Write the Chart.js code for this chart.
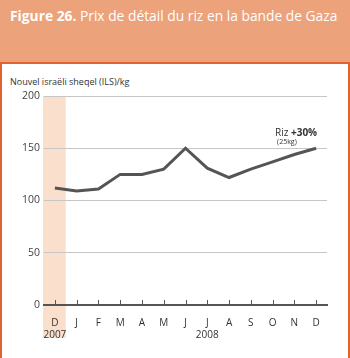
<!DOCTYPE html>
<html>
<head>
<meta charset="utf-8">
<script src="https://cdn.jsdelivr.net/npm/chart.js@4"></script>
<style>
  body { margin: 0; width: 350px; height: 358px; overflow: hidden; background: #fff; font-family: "Open Sans", sans-serif; }
  .header { position: absolute; left: 0; top: 0; width: 350px; height: 62px; background: #eca27b; }
  .header h1 { margin: 0; position: absolute; left: 10px; top: 6px; color: #fff; font-size: 13.8px; font-weight: normal; white-space: nowrap; }
  .panel { position: absolute; left: 0; top: 62px; width: 346px; height: 300px; border: 2px solid #e2632d; border-bottom: none; }
  .ytitle { position: absolute; left: 10px; top: 75px; font-size: 9px; color: #333; }
  #wrap { position: absolute; left: 0; top: 0; width: 350px; height: 358px; }
</style>
</head>
<body>
<div class="header"><h1><b>Figure 26.</b> Prix de détail du riz en la bande de Gaza</h1></div>
<div class="panel"></div>
<div class="ytitle">Nouvel israëli sheqel (ILS)/kg</div>
<div id="wrap"><canvas id="riceChart"></canvas></div>
<script>
const months = [['D', '2007'], 'J', 'F', 'M', 'A', 'M', 'J', ['J', '2008'], 'A', 'S', 'O', 'N', 'D'];
const ricePrice = [112, 109, 111, 125, 125, 130, 150, 131, 122, 130, 137, 144, 150];
const yTicks = [0, 50, 100, 150, 200];

// shaded column for Dec 2007, inner tick marks and the end label
const extras = {
    id: 'extras',
    beforeDatasetsDraw(chart) {
        const ctx = chart.ctx, x = chart.scales.x, area = chart.chartArea;
        const half = (x.getPixelForValue(1) - x.getPixelForValue(0)) / 2;
        ctx.save();
        ctx.globalCompositeOperation = 'destination-over';
        ctx.fillStyle = '#fbdfcd';
        ctx.fillRect(x.getPixelForValue(0) - half - 1, area.top, half * 2 + 1, 338 - area.top);
        ctx.restore();
        ctx.save();
        ctx.strokeStyle = '#555';
        ctx.lineWidth = 1;
        months.forEach((m, i) => {
            const px = Math.round(x.getPixelForValue(i)) + 0.5;
            ctx.beginPath();
            ctx.moveTo(px, area.bottom);
            ctx.lineTo(px, area.bottom - 5);
            ctx.stroke();
        });
        ctx.restore();
    },
    afterDatasetsDraw(chart) {
        const ctx = chart.ctx;
        const last = ricePrice.length - 1;
        const px = chart.scales.x.getPixelForValue(last);
        const py = chart.scales.y.getPixelForValue(ricePrice[last]);
        ctx.save();
        ctx.fillStyle = '#333';
        ctx.textAlign = 'right';
        ctx.textBaseline = 'alphabetic';
        ctx.font = 'bold 10px "Open Sans"';
        const bold = '+30%';
        const bw = ctx.measureText(bold).width;
        ctx.fillText(bold, px + 1, py - 12);
        ctx.font = '10px "Open Sans"';
        ctx.fillText('Riz ', px + 1 - bw, py - 12);
        ctx.textAlign = 'left';
        ctx.font = '7px "Open Sans"';
        ctx.fillText('(25kg)', px - 39, py - 4);
        ctx.restore();
    }
};

new Chart(document.getElementById('riceChart'), {
    type: 'line',
    data: {
        labels: months,
        datasets: [{
            data: ricePrice,
            borderColor: '#555',
            borderWidth: 3,
            pointRadius: 0,
            tension: 0
        }]
    },
    options: {
        responsive: true,
        maintainAspectRatio: false,
        animation: false,
        layout: { padding: { top: 96, right: 23, bottom: 13, left: 0 } },
        plugins: { legend: { display: false }, tooltip: { enabled: false } },
        scales: {
            x: {
                offset: true,
                grid: { display: false },
                border: { display: true, color: '#555', width: 2 },
                ticks: { color: '#333', font: { size: 10, family: 'Open Sans' }, padding: 4, maxRotation: 0, autoSkip: false },
                afterFit(scale) { scale.height = 40; }
            },
            y: {
                min: 0,
                max: 200,
                afterBuildTicks(scale) { scale.ticks = yTicks.map(v => ({ value: v })); },
                grid: { color: '#c6c6c6', lineWidth: 1, drawTicks: false },
                border: { display: false },
                ticks: { color: '#444', font: { size: 10.5, family: 'Open Sans' }, padding: 4 },
                afterFit(scale) { scale.width = 44; }
            }
        }
    },
    plugins: [extras]
});
</script>
</body>
</html>
